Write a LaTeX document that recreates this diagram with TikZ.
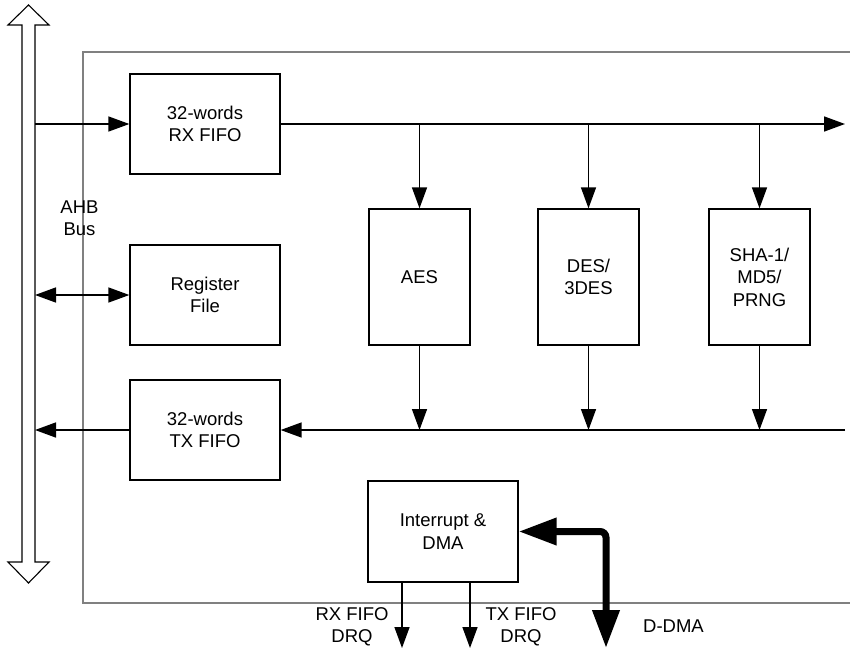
\documentclass[tikz,border=0pt]{standalone}
\usepackage{fontspec}
\setmainfont{Liberation Sans}
\usetikzlibrary{arrows.meta}
\begin{document}
\begin{tikzpicture}[x=1pt,y=-1pt,
  every node/.style={font=\fontsize{18.5}{22.5}\selectfont, align=center, inner sep=0pt},
  blk/.style={draw, line width=1.3pt, minimum width=150pt, minimum height=100pt},
  cblk/.style={draw, line width=1.3pt, minimum width=101pt, minimum height=136pt},
  arr/.style={line width=1.5pt, -{Triangle[length=21pt,width=15pt]}},
  darr/.style={line width=1.5pt, {Triangle[length=21pt,width=15pt]}-{Triangle[length=21pt,width=15pt]}},
  fatarr/.style={line width=7pt, rounded corners=6pt, {Triangle[length=38pt,width=26pt]}-{Triangle[length=38pt,width=26pt]}},
  frame/.style={draw=black!50, line width=1.5pt},
  bus/.style={draw, line width=1.1pt, fill=white, line join=miter}
]
\useasboundingbox (0,0) rectangle (850,650);
% outer frame (open on the right)
\draw[frame] (850,52) -- (83,52) -- (83,603) -- (850,603);
% AHB bus double arrow
\draw[bus] (22,562) -- (22,25) -- (8,25) -- (28.5,5) -- (49,25) -- (35,25) -- (35,562) -- (49,562) -- (28.5,583) -- (8,562) -- cycle;
\node (lahb) at (79.5,218) {AHB\\Bus};
% blocks
\node[blk] (rx) at (205,124) {32-words\\RX FIFO};
\node[blk] (reg) at (205,295) {Register\\File};
\node[blk] (tx) at (205,430) {32-words\\TX FIFO};
\node[cblk] (aes) at (419.5,277) {AES};
\node[cblk] (des) at (588.5,277) {DES/\\3DES};
\node[cblk] (sha) at (759.5,277) {SHA-1/\\MD5/\\PRNG};
\node[blk, minimum height=101pt] (int) at (443,531.5) {Interrupt \&\\DMA};
% coordinates
\coordinate (busrx) at (35,124);
\coordinate (busreg) at (35,295);
\coordinate (bustx) at (35,430);
\coordinate (topend) at (845,124);
\coordinate (botstart) at (845,430);
\coordinate (drqa) at (402,648);
\coordinate (drqb) at (470,648);
\coordinate (ddma) at (606,648);
% connectors
\draw[arr] (busrx) -- (rx.west);
\draw[darr] (busreg) -- (reg.west);
\draw[arr] (tx.west) -- (bustx);
\draw[arr] (rx.east) -- (topend);
\draw[arr] (botstart) -- (tx.east);
\foreach \n in {aes,des,sha}{
  \draw[arr] (\n.north |- rx.east) -- (\n.north);
  \draw[arr] (\n.south) -- (\n.south |- tx.east);
}
\draw[arr] (int.south -| drqa) -- (drqa);
\draw[arr] (int.south -| drqb) -- (drqb);
\draw[fatarr] (int.east) -| (ddma);
% labels
\node (lrx) at (352,627) {RX FIFO\\DRQ};
\node (ltx) at (521,627) {TX FIFO\\DRQ};
\node[anchor=base west] (lddma) at (643,632) {D-DMA};
\end{tikzpicture}
\end{document}
